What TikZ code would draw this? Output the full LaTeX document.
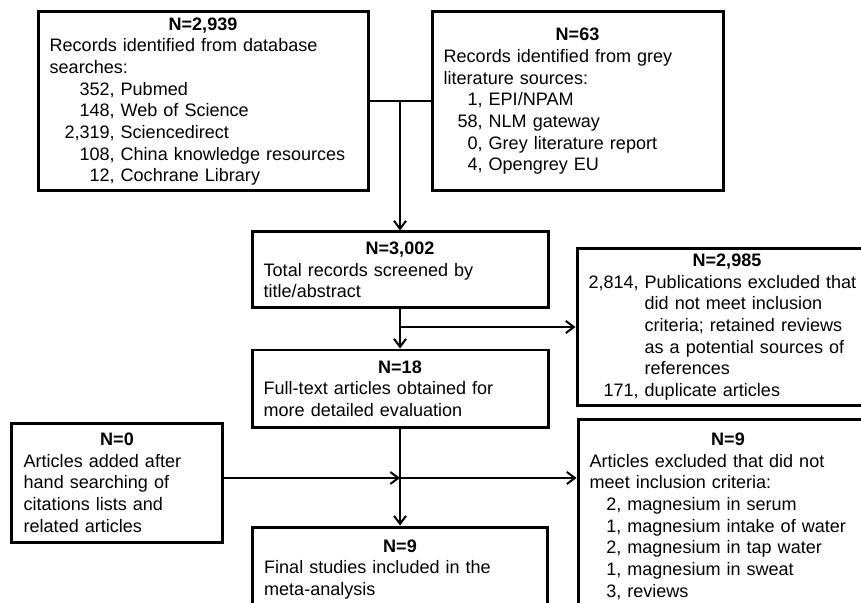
\documentclass[tikz,border=0pt]{standalone}
\usepackage{fontspec}
\setmainfont{Liberation Sans}
\usepackage{tikz}
\usetikzlibrary{arrows.meta,positioning}
\newcommand{\nhead}[2][\linewidth]{\makebox[#1]{\bfseries #2}}
\newcommand{\srcline}[3]{\makebox[#1][r]{#2}\ #3}

\begin{document}
\begin{tikzpicture}[
    box/.style={rectangle, draw, line width=0.09cm, inner xsep=0.35cm, inner ysep=0.1cm,
        align=left, font=\fontsize{15.4}{18.5}\selectfont},
    conn/.style={line width=0.06cm},
    arr/.style={-{Straight Barb[length=2.4mm,width=3.6mm]}, line width=0.06cm}
]
    \useasboundingbox (0,0) rectangle (25.83,18.06);
    \clip (0,0) rectangle (25.83,18.06);
    % identification
    \node[box, text width=9.2cm, minimum height=5.37cm] (db) at (6.09,15.015) {\nhead{N=2,939}\\
        Records identified from database\\searches:\\
        \srcline{1.95cm}{352,}{Pubmed}\\
        \srcline{1.95cm}{148,}{Web of Science}\\
        \srcline{1.95cm}{2,319,}{Sciencedirect}\\
        \srcline{1.95cm}{108,}{China knowledge resources}\\
        \srcline{1.95cm}{12,}{Cochrane Library}};
    \node[box, text width=8.03cm, minimum height=5.37cm] (grey) at (17.325,15.015) {\nhead{N=63}\\
        Records identified from grey\\literature sources:\\
        \srcline{1.17cm}{1,}{EPI/NPAM}\\
        \srcline{1.17cm}{58,}{NLM gateway}\\
        \srcline{1.17cm}{0,}{Grey literature report}\\
        \srcline{1.17cm}{4,}{Opengrey EU}};
    % screening
    \node[box, text width=8.18cm, minimum height=2.28cm] (screen) at (12,9.96) {\nhead{N=3,002}\\
        Total records screened by\\title/abstract};
    \node[box, text width=9.8cm, minimum height=4.68cm] (excl) at (22.56,8.25) {\nhead[8.3cm]{N=2,985}\\
        \srcline{1.5cm}{2,814,}{Publications excluded that}\\
        \srcline{1.5cm}{}{did not meet inclusion}\\
        \srcline{1.5cm}{}{criteria; retained reviews}\\
        \srcline{1.5cm}{}{as a potential sources of}\\
        \srcline{1.5cm}{}{references}\\
        \srcline{1.5cm}{171,}{duplicate articles}};
    % eligibility
    \node[box, text width=8.18cm, minimum height=2.31cm] (full) at (12,6.405) {\nhead{N=18}\\
        Full-text articles obtained for\\more detailed evaluation};
    \node[box, text width=5.6cm, minimum height=3.57cm] (hand) at (3.51,3.585) {\nhead{N=0}\\
        Articles added after\\hand searching of\\citations lists and\\related articles};
    \node[box, text width=9.8cm, minimum height=5.82cm] (notmet) at (22.59,2.57) {\nhead[8.3cm]{N=9}\\
        Articles excluded that did not\\meet inclusion criteria:\\
        \srcline{0.95cm}{2,}{magnesium in serum}\\
        \srcline{0.95cm}{1,}{magnesium intake of water}\\
        \srcline{0.95cm}{2,}{magnesium in tap water}\\
        \srcline{0.95cm}{1,}{magnesium in sweat}\\
        \srcline{0.95cm}{3,}{reviews}};
    % included
    \node[box, text width=8.15cm, minimum height=2.55cm] (final) at (12,0.975) {\nhead{N=9}\\
        Final studies included in the\\meta-analysis};
    \coordinate (join) at (12,3.72);
    \draw[conn] (db.east) -- (grey.west);
    \draw[arr] (screen.north |- db.east) -- (screen.north);
    \draw[arr] (screen.south) -- (full.north);
    \draw[arr] (screen.south |- excl.west) -- (excl.west);
    \draw[arr] (full.south) -- (final.north);
    \draw[arr] (hand.east |- join) -- (join);
    \draw[arr] (join) -- (join -| notmet.west);
\end{tikzpicture}
\end{document}
